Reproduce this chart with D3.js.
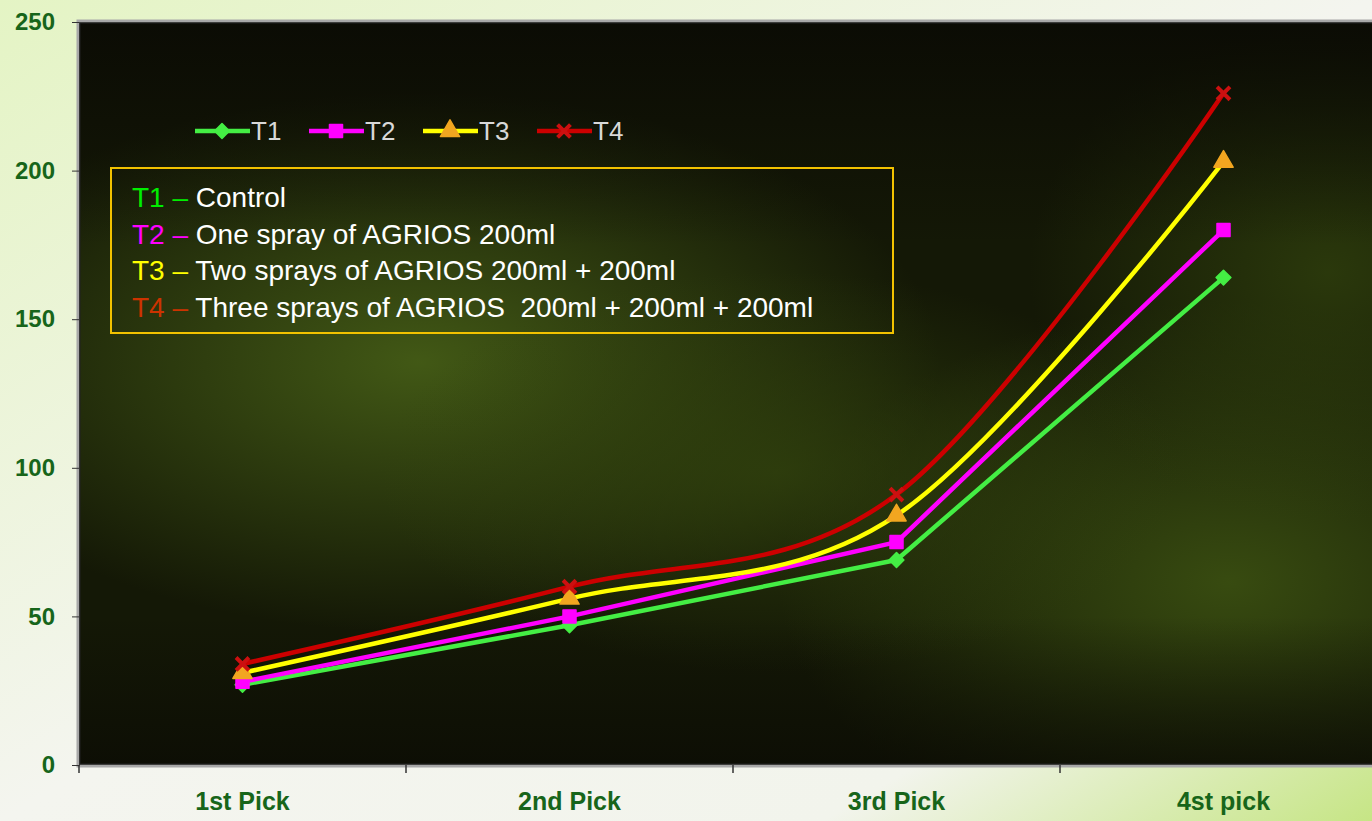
<!DOCTYPE html>
<html>
<head>
<meta charset="utf-8">
<script src="https://cdn.jsdelivr.net/npm/d3@7"></script>
<style>
  html, body { margin: 0; padding: 0; overflow: hidden; }
  body { width: 1372px; height: 821px; }
  text { white-space: pre; }
</style>
</head>
<body>
<svg id="chart"></svg>
<script>
const categories = ['1st Pick', '2nd Pick', '3rd Pick', '4st pick'];
const seriesNames = ['T1', 'T2', 'T3', 'T4'];
const t1 = [27, 47, 69, 164];
const t2 = [28, 50, 75, 180];
const t3 = [31, 56, 84, 203];
const t4 = [34, 60, 91, 226];
const yTicks = [0, 50, 100, 150, 200, 250];
const noteLabels = ['T1', 'T2', 'T3', 'T4'];
const noteTexts = [
  'Control',
  'One spray of AGRIOS 200ml',
  'Two sprays of AGRIOS 200ml + 200ml',
  'Three sprays of AGRIOS  200ml + 200ml + 200ml'
];

const width = 1372, height = 821;
const margin = { top: 22, left: 79, bottom: 56 };
const bandW = 327;
const innerWidth = bandW * categories.length;
const innerHeight = height - margin.top - margin.bottom;

const lineColors = ['#44ee44', '#ff00ff', '#ffff00', '#cc0000'];
const markColors = ['#44ee44', '#ff00ff', '#f2a620', '#cc1010'];
const noteColors = ['#00ee00', '#ff00ff', '#ffff00', '#cc3300'];
const allSeries = [t1, t2, t3, t4];
// T1 and T2 are drawn straight, T3 and T4 smoothed
const smooth = [false, false, true, true];

const svg = d3.select('#chart').attr('width', width).attr('height', height);
const defs = svg.append('defs');

// page background
const pg = defs.append('linearGradient').attr('id', 'page')
  .attr('x1', 0).attr('y1', 0).attr('x2', 1).attr('y2', 1);
pg.append('stop').attr('offset', '0%').attr('stop-color', '#e4f4c4');
pg.append('stop').attr('offset', '50%').attr('stop-color', '#f4f5ef');
pg.append('stop').attr('offset', '80%').attr('stop-color', '#f2f4ec');
pg.append('stop').attr('offset', '100%').attr('stop-color', '#c6e585');
svg.append('rect').attr('width', width).attr('height', height).attr('fill', 'url(#page)');

// plot background spots
function spot(id, color, op) {
  const g = defs.append('radialGradient').attr('id', id);
  g.append('stop').attr('offset', '0%').attr('stop-color', color).attr('stop-opacity', op);
  g.append('stop').attr('offset', '100%').attr('stop-color', color).attr('stop-opacity', 0);
}
spot('s1', '#4a6418', 0.85);
spot('s2', '#3e5412', 0.85);
spot('s3', '#34460e', 0.7);

const g = svg.append('g').attr('transform', `translate(${margin.left},${margin.top})`);

const x = d3.scaleBand().domain(categories).range([0, innerWidth]).padding(0);
const y = d3.scaleLinear().domain([0, 250]).range([innerHeight, 0]);

g.append('clipPath').attr('id', 'clip').append('rect')
  .attr('width', innerWidth).attr('height', innerHeight);

const bg = g.append('g').attr('clip-path', 'url(#clip)');
bg.append('rect').attr('width', innerWidth).attr('height', innerHeight).attr('fill', '#141806');
bg.append('ellipse').attr('cx', 340).attr('cy', 340).attr('rx', 520).attr('ry', 270).attr('fill', 'url(#s1)');
bg.append('ellipse').attr('cx', 1150).attr('cy', 560).attr('rx', 450).attr('ry', 280).attr('fill', 'url(#s2)');
bg.append('ellipse').attr('cx', 700).attr('cy', 450).attr('rx', 400).attr('ry', 200).attr('fill', 'url(#s3)');
bg.append('ellipse').attr('cx', 1250).attr('cy', 250).attr('rx', 300).attr('ry', 250).attr('fill', 'url(#s3)');
const dark = defs.append('linearGradient').attr('id', 'dark').attr('x1', 0).attr('y1', 0).attr('x2', 0).attr('y2', 1);
dark.append('stop').attr('offset', '0%').attr('stop-color', '#0a0a04').attr('stop-opacity', 0.9);
dark.append('stop').attr('offset', '30%').attr('stop-color', '#0a0a04').attr('stop-opacity', 0);
dark.append('stop').attr('offset', '80%').attr('stop-color', '#0a0a04').attr('stop-opacity', 0);
dark.append('stop').attr('offset', '100%').attr('stop-color', '#0a0a04').attr('stop-opacity', 0.7);
bg.append('rect').attr('width', innerWidth).attr('height', innerHeight).attr('fill', 'url(#dark)');

// plot border
g.append('rect').attr('x', -1).attr('y', -1).attr('width', innerWidth + 2).attr('height', innerHeight + 2)
  .attr('fill', 'none').attr('stroke', '#a8a8a8').attr('stroke-width', 3);
g.append('rect').attr('x', 1).attr('y', 1).attr('width', innerWidth).attr('height', innerHeight - 2)
  .attr('fill', 'none').attr('stroke', '#222', ).attr('stroke-width', 1);

// y axis
const yAxis = g.append('g').call(d3.axisLeft(y).tickValues(yTicks).tickSize(7).tickPadding(17));
yAxis.select('.domain').attr('stroke', '#333');
yAxis.selectAll('.tick line').attr('stroke', '#333');
yAxis.selectAll('text')
  .style('font-family', 'Liberation Sans, Arial, sans-serif')
  .style('font-size', '24px').style('font-weight', 'bold').attr('fill', '#17651a');

// x axis
const xAxis = g.append('g').attr('transform', `translate(0,${innerHeight})`)
  .call(d3.axisBottom(x).tickSize(0).tickPadding(27));
xAxis.select('.domain').remove();
xAxis.selectAll('text')
  .style('font-family', 'Liberation Sans, Arial, sans-serif')
  .style('font-size', '25px').style('font-weight', 'bold').attr('fill', '#17651a');
g.append('g').selectAll('line')
  .data(d3.range(categories.length + 1))
  .enter().append('line')
  .attr('x1', i => i * bandW).attr('x2', i => i * bandW)
  .attr('y1', innerHeight).attr('y2', innerHeight + 8)
  .attr('stroke', '#333').attr('stroke-width', 1.5);

// lines
const cx = d => x(d.c) + x.bandwidth() / 2;
const lineSmooth = d3.line().x(cx).y(d => y(d.v)).curve(d3.curveCatmullRom.alpha(0));
const lineStraight = d3.line().x(cx).y(d => y(d.v));
const plot = g.append('g').attr('clip-path', 'url(#clip)');

allSeries.forEach((s, i) => {
  const pts = s.map((v, j) => ({ c: categories[j], v }));
  plot.append('path').datum(pts).attr('d', smooth[i] ? lineSmooth : lineStraight)
    .attr('fill', 'none').attr('stroke', lineColors[i]).attr('stroke-width', 4.5)
    .attr('stroke-linejoin', 'round');
});

const symbols = [d3.symbolSquare, d3.symbolSquare, d3.symbolTriangle, d3.symbolTimes];
const symSizes = [110, 170, 160, 110];
function marker(sel, i) {
  const sym = d3.symbol().type(symbols[i]).size(symSizes[i]);
  const p = sel.append('path').attr('d', sym);
  if (i === 0) p.attr('transform', 'rotate(45)');
  if (i === 3) p.attr('fill', 'none').attr('stroke', markColors[i]).attr('stroke-width', 4);
  else p.attr('fill', markColors[i]).attr('stroke', markColors[i]).attr('stroke-width', 1.5).attr('stroke-linejoin', 'round');
  return p;
}
allSeries.forEach((s, i) => {
  s.forEach((v, j) => {
    const m = plot.append('g').attr('transform', `translate(${x(categories[j]) + x.bandwidth() / 2},${y(v)})`);
    marker(m, i);
  });
});

// legend
const leg = svg.append('g').attr('transform', 'translate(195,131)');
seriesNames.forEach((n, i) => {
  const it = leg.append('g').attr('transform', `translate(${i * 114},0)`);
  it.append('line').attr('x1', 0).attr('x2', 55).attr('stroke', lineColors[i]).attr('stroke-width', 4.5);
  const m = it.append('g').attr('transform', 'translate(27,0)');
  marker(m, i);
  it.append('text').attr('x', 56).attr('y', 9).text(n)
    .style('font-family', 'Liberation Sans, Arial, sans-serif').style('font-size', '26px')
    .attr('fill', '#d8d8d8');
});

// notes box
const box = svg.append('g').attr('transform', 'translate(111,168)');
box.append('rect').attr('width', 782).attr('height', 165)
  .attr('fill', 'none').attr('stroke', '#f2c200').attr('stroke-width', 2);
noteTexts.forEach((t, i) => {
  const tx = box.append('text').attr('x', 21).attr('y', 39 + i * 36.5)
    .style('font-family', 'Liberation Sans, Arial, sans-serif').style('font-size', '28px');
  tx.append('tspan').attr('fill', noteColors[i]).text(noteLabels[i] + ' – ');
  tx.append('tspan').attr('fill', '#ffffff').text(t);
});
</script>
</body>
</html>
